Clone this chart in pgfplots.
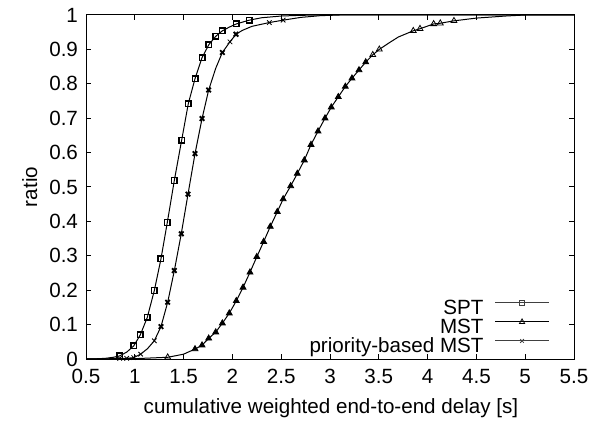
\documentclass[border=0pt]{standalone}
\usepackage{fontspec}
\setmainfont{Liberation Sans}
\usepackage{pgfplots}
\pgfplotsset{compat=1.18}
\begin{document}
\begin{tikzpicture}
\begin{axis}[
  scale only axis, width=244pt, height=172pt,
  xmin=0.5, xmax=5.5, ymin=0, ymax=1,
  xtick={0.5,1,...,5.5}, ytick={0,0.1,...,1},
  xticklabels={0.5,1,1.5,2,2.5,3,3.5,4,4.5,5,5.5},
  yticklabels={0,0.1,0.2,0.3,0.4,0.5,0.6,0.7,0.8,0.9,1},
  tick align=inside, major tick length=2.6pt, minor tick num=0,
  tick style={black, line width=0.5pt},
  axis line style={line width=0.5pt},
  font=\fontsize{10.3}{12}\selectfont,
  ticklabel style={font=\fontsize{10.3}{12}\selectfont},
  yticklabel style={xshift=-0.5pt},
  xticklabel style={yshift=-1.5pt},
  xlabel={cumulative weighted end-to-end delay [s]},
  ylabel={ratio},
  every axis x label/.style={at={(axis description cs:0.502,-0.143)}, anchor=center},
  every axis y label/.style={at={(axis description cs:-0.115,0.5)}, anchor=center, rotate=90},
  legend style={draw=none, fill=none, at={(0.963,-0.008)}, anchor=south east,
    font=\fontsize{10.3}{12}\selectfont, row sep=-0.9pt,
    nodes={inner sep=0.5pt, text height=7.6pt, text depth=1.8pt},
    column sep=5pt},
  legend cell align=right,
  legend plot pos=right,
  legend image code/.code={\draw[mark repeat=2,mark phase=2,#1] plot coordinates {(0pt,3pt)(13.5pt,3pt)(27pt,3pt)};},
]
% SPT
\addplot[black, line width=0.5pt, forget plot] coordinates {
(0.5,0)(0.6,0.0005)(0.7,0.002)(0.78,0.005)(0.845,0.009)(0.917,0.02)(0.989,0.038)(1.056,0.070)(1.128,0.121)(1.2,0.199)(1.268,0.291)(1.333,0.397)(1.405,0.519)(1.48,0.636)(1.548,0.742)(1.617,0.815)(1.689,0.876)(1.757,0.913)(1.829,0.938)(1.897,0.954)(1.97,0.965)(2.04,0.974)(2.173,0.985)(2.3,0.992)(2.5,0.997)(2.7,0.999)(2.9,1.0)(5.5,1)};
\addplot[black, only marks, mark=square, mark size=1.4pt, mark options={line width=0.7pt}, forget plot] coordinates {
(0.845,0.009)(0.989,0.038)(1.056,0.070)(1.128,0.121)(1.2,0.199)(1.268,0.291)(1.333,0.397)(1.405,0.519)(1.48,0.636)(1.548,0.742)(1.617,0.815)(1.689,0.876)(1.757,0.913)(1.829,0.938)(1.897,0.954)(2.04,0.974)(2.173,0.985)};
% MST
\addplot[black, line width=0.5pt, forget plot] coordinates {
(0.5,0)(1.0,0.001)(1.337,0.005)(1.5,0.014)(1.617,0.029)(1.689,0.040)(1.757,0.060)(1.829,0.078)(1.897,0.104)(1.968,0.133)(2.04,0.169)(2.109,0.208)(2.18,0.252)(2.25,0.297)(2.32,0.341)(2.388,0.385)(2.46,0.428)(2.52,0.465)(2.597,0.503)(2.665,0.539)(2.737,0.578)(2.805,0.623)(2.877,0.662)(2.949,0.700)(3.013,0.732)(3.085,0.762)(3.157,0.792)(3.225,0.816)(3.297,0.840)(3.366,0.863)(3.438,0.884)(3.505,0.900)(3.6,0.918)(3.7,0.936)(3.853,0.954)(3.922,0.960)(4.062,0.974)(4.13,0.976)(4.27,0.983)(4.5,0.991)(4.8,0.997)(5.0,1.0)(5.5,1)};
\addplot[black, only marks, mark=triangle*, mark size=1.7pt, mark options={line width=0.4pt}, forget plot] coordinates {
(1.617,0.029)(1.689,0.040)(1.757,0.060)(1.829,0.078)(1.897,0.104)(1.968,0.133)(2.04,0.169)(2.109,0.208)(2.18,0.252)(2.25,0.297)(2.32,0.341)(2.388,0.385)(2.46,0.428)(2.52,0.465)(2.597,0.503)(2.665,0.539)(2.737,0.578)(2.805,0.623)(2.877,0.662)(2.949,0.700)(3.013,0.732)(3.085,0.762)(3.157,0.792)(3.225,0.816)(3.297,0.840)(3.366,0.863)};
\addplot[black, only marks, mark=triangle, mark size=1.7pt, mark options={line width=0.4pt}, forget plot] coordinates {
(1.337,0.005)(3.438,0.884)(3.505,0.900)(3.853,0.954)(3.922,0.960)(4.062,0.974)(4.13,0.976)(4.27,0.983)};
% priority-based MST
\addplot[black, line width=0.5pt, forget plot] coordinates {
(0.5,0)(0.7,0.0003)(0.845,0.002)(0.917,0.002)(0.989,0.004)(1.06,0.014)(1.13,0.030)(1.2,0.053)(1.268,0.094)(1.337,0.165)(1.405,0.257)(1.476,0.364)(1.545,0.479)(1.617,0.597)(1.689,0.699)(1.757,0.782)(1.829,0.845)(1.897,0.891)(1.975,0.922)(2.037,0.944)(2.1,0.955)(2.2,0.967)(2.378,0.978)(2.52,0.985)(2.7,0.993)(2.9,0.998)(3.1,1.0)(5.5,1)};
\addplot[black, only marks, mark=x, mark size=1.6pt, mark options={line width=0.9pt}, forget plot] coordinates {
(1.268,0.094)(1.337,0.165)(1.405,0.257)(1.476,0.364)(1.545,0.479)(1.617,0.597)(1.689,0.699)(1.757,0.782)(1.897,0.891)(2.037,0.944)};
\addplot[black, only marks, mark=x, mark size=1.6pt, mark options={line width=0.4pt}, forget plot] coordinates {
(0.845,0.002)(0.917,0.002)(0.989,0.004)(1.06,0.014)(1.2,0.053)(1.975,0.922)(2.378,0.978)(2.52,0.985)};
\addlegendimage{black!75, line width=0.5pt, mark=square, mark size=1.3pt, mark options={line width=0.4pt}}
\addlegendentry{SPT}
\addlegendimage{black, line width=0.5pt, mark=triangle, mark size=1.5pt, mark options={line width=0.4pt}}
\addlegendentry{MST}
\addlegendimage{black!75, line width=0.5pt, mark=x, mark size=1.3pt, mark options={line width=0.4pt}}
\addlegendentry{priority-based MST}
\end{axis}
\pgfresetboundingbox
\path ([xshift=-43pt,yshift=-36pt]current axis.south west) rectangle ([xshift=8pt,yshift=7.5pt]current axis.north east);
\end{tikzpicture}
\end{document}
